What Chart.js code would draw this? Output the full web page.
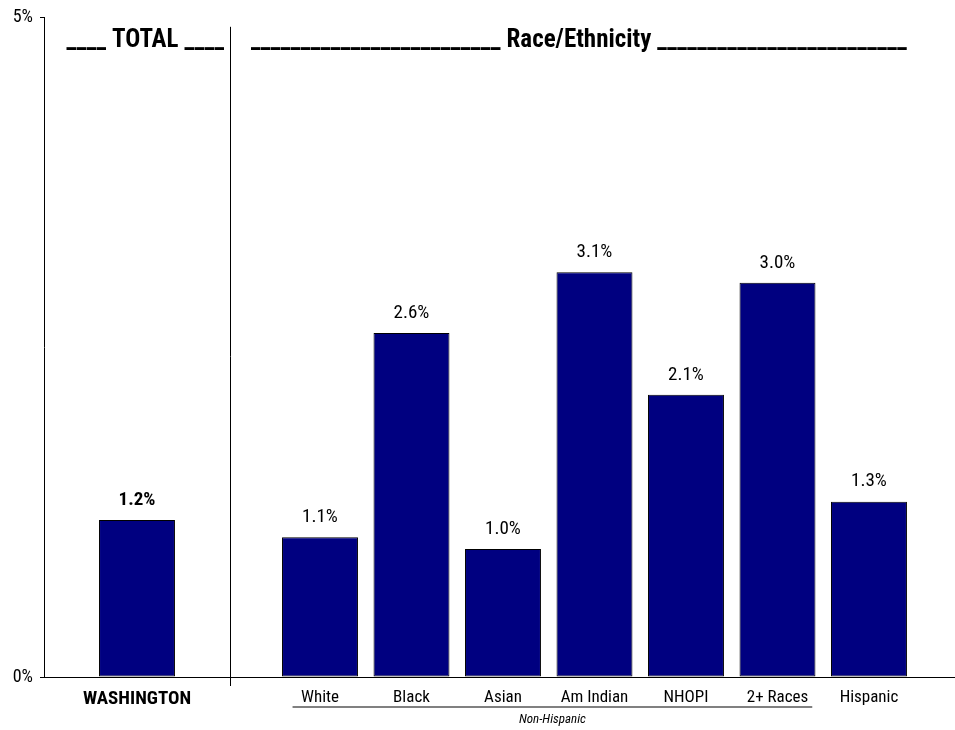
<!DOCTYPE html>
<html>
<head>
<meta charset="utf-8">
<script src="https://cdn.jsdelivr.net/npm/chart.js@4.4.0/dist/chart.umd.min.js"></script>
<style>
  html, body { margin: 0; padding: 0; background: #fff; }
  #wrap { width: 955px; height: 730px; }
</style>
</head>
<body>
<div id="wrap"><canvas id="rateChart"></canvas></div>
<script>
// rates in percent, state total first, then race/ethnicity groups
var categories = ["WASHINGTON", "White", "Black", "Asian", "Am Indian", "NHOPI", "2+ Races", "Hispanic"];
var rates = [1.19, 1.06, 2.61, 0.97, 3.07, 2.14, 2.99, 1.33];
var yTicks = [0, 5];
var groupTitles = ["____ TOTAL ____", "_________________________ Race/Ethnicity _________________________"];
var subGroupNote = "Non-Hispanic";

var NARROW = "'Roboto Condensed', 'DejaVu Sans Condensed', sans-serif";

// the total sits alone, one empty slot before the race groups
function slotOf(i) { return i === 0 ? 0 : i + 1; }

var points = categories.map(function (c, i) {
  return { x: slotOf(i), y: rates[i] };
});

var annotations = {
  id: "annotations",
  afterDraw: function (chart) {
    var ctx = chart.ctx;
    var x = chart.scales.x;
    var area = chart.chartArea;
    var bars = chart.getDatasetMeta(0).data;

    ctx.save();
    ctx.fillStyle = "#000";
    ctx.textAlign = "center";
    ctx.textBaseline = "middle";

    // value labels
    bars.forEach(function (bar, i) {
      ctx.font = (i === 0 ? "bold " : "") + "19px " + NARROW;
      ctx.fillText(rates[i].toFixed(1) + "%", bar.x, bar.y - 20);
    });

    // divider between total and groups
    var sx = Math.round(x.getPixelForValue(1.02)) + 0.5;
    ctx.strokeStyle = "#000";
    ctx.lineWidth = 1;
    ctx.beginPath();
    ctx.moveTo(sx, area.top + 9);
    ctx.lineTo(sx, area.bottom + 9);
    ctx.stroke();

    // group headings
    ctx.font = "bold 25px " + NARROW;
    ctx.fillText(groupTitles[0], x.getPixelForValue(0.09), area.top + 23);
    ctx.fillText(groupTitles[1], x.getPixelForValue(4.83), area.top + 23);

    // non-hispanic bracket
    var x0 = x.getPixelForValue(1.7);
    var x1 = x.getPixelForValue(7.38);
    ctx.strokeStyle = "#808080";
    ctx.lineWidth = 2;
    ctx.beginPath();
    ctx.moveTo(x0, area.bottom + 30);
    ctx.lineTo(x1, area.bottom + 30);
    ctx.stroke();
    ctx.font = "italic 13px " + NARROW;
    ctx.fillText(subGroupNote, (x0 + x1) / 2, area.bottom + 43);
    ctx.restore();
  }
};

new Chart(document.getElementById("rateChart"), {
  type: "bar",
  data: {
    datasets: [{
      data: points,
      backgroundColor: "#000080",
      borderColor: "#000",
      borderWidth: 1,
      borderSkipped: false,
      barPercentage: 0.83,
      categoryPercentage: 1
    }]
  },
  options: {
    responsive: true,
    maintainAspectRatio: false,
    animation: false,
    layout: { padding: { top: 15, left: 0, right: 0, bottom: 0 } },
    plugins: { legend: { display: false }, tooltip: { enabled: false } },
    scales: {
      x: {
        type: "linear",
        offset: false,
        min: -1.0164,
        max: 8.94,
        afterBuildTicks: function (scale) {
          scale.ticks = categories.map(function (c, i) { return { value: slotOf(i) }; });
        },
        afterFit: function (scale) { scale.height = 53; },
        grid: { display: false },
        border: { display: true, color: "#000", width: 1 },
        ticks: {
          autoSkip: false,
          maxRotation: 0,
          padding: 3,
          color: "#000",
          font: function (c) {
            return c.index === 0
              ? { family: NARROW, size: 19, weight: "bold" }
              : { family: NARROW, size: 17, weight: "normal" };
          },
          callback: function (v) {
            for (var i = 0; i < categories.length; i++) {
              if (slotOf(i) === v) return categories[i];
            }
            return "";
          }
        }
      },
      y: {
        min: 0,
        max: 5,
        afterBuildTicks: function (scale) {
          scale.ticks = yTicks.map(function (v) { return { value: v }; });
        },
        afterFit: function (scale) { scale.width = 44; },
        grid: { drawOnChartArea: false, tickLength: 4, color: "#000" },
        border: { display: true, color: "#000", width: 1 },
        ticks: {
          padding: 7,
          color: "#000",
          font: { family: NARROW, size: 18 },
          callback: function (v) { return v + "%"; }
        }
      }
    }
  },
  plugins: [annotations]
});
</script>
</body>
</html>
